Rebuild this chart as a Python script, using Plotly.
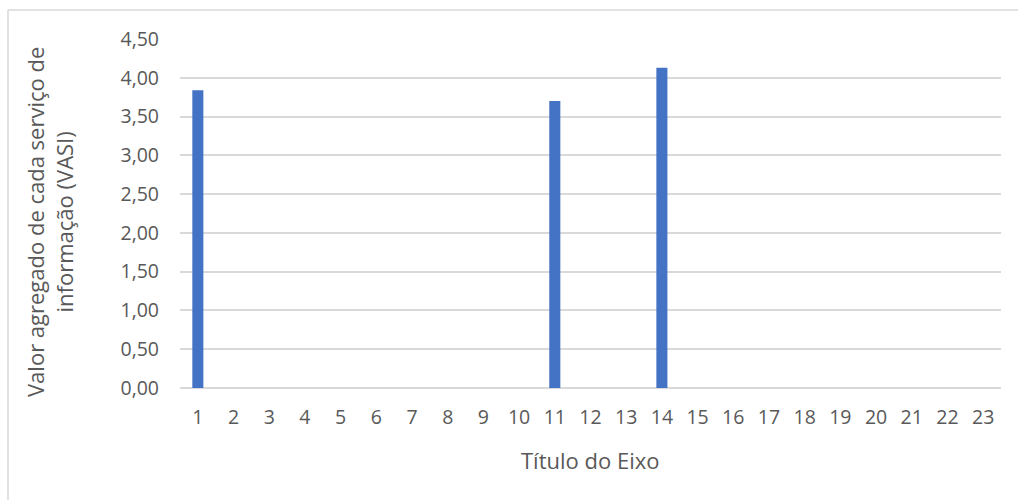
import plotly.graph_objects as go

categories = [str(i) for i in range(1, 24)]
vasi = [3.84, 0, 0, 0, 0, 0, 0, 0, 0, 0, 3.70, 0, 0, 4.13,
        0, 0, 0, 0, 0, 0, 0, 0, 0]
y_ticks = [0, 0.5, 1, 1.5, 2, 2.5, 3, 3.5, 4, 4.5]
y_tick_text = ["0,00", "0,50", "1,00", "1,50", "2,00", "2,50", "3,00", "3,50", "4,00", "4,50"]

W, H = 1018, 500
L, R, T, B = 180, 17, 39, 112
pw, ph = W - L - R, H - T - B

FONT = "Open Sans"
TXT = "#595959"
GRID = "#d9d9d9"

fig = go.Figure(go.Bar(x=categories, y=vasi, marker=dict(color="#4472c4", line=dict(width=0))))


def px_x(x):
    return (x - L) / pw


def px_y(y):
    return 1 - (y - T) / ph


fig.update_layout(
    width=W, height=H,
    margin=dict(l=L, r=R, t=T, b=B),
    paper_bgcolor="white", plot_bgcolor="white",
    bargap=0.69,
    showlegend=False,
    font=dict(family=FONT, color=TXT),
    xaxis=dict(
        type="category",
        showgrid=False, showline=False, zeroline=False,
        ticks="", tickfont=dict(size=19.5, color=TXT, family=FONT),
        ticklabelstandoff=15,
    ),
    yaxis=dict(
        range=[0, 4.5],
        tickvals=y_ticks, ticktext=y_tick_text,
        showgrid=True, gridcolor=GRID, gridwidth=1.5,
        zeroline=True, zerolinecolor=GRID, zerolinewidth=1.5,
        showline=False, ticks="",
        tickfont=dict(size=19.5, color=TXT, family=FONT),
        ticklabelstandoff=20,
    ),
    shapes=[
        dict(type="line", xref="paper", yref="paper",
             x0=px_x(8), x1=px_x(1030), y0=px_y(10), y1=px_y(10),
             line=dict(color=GRID, width=1.5)),
        dict(type="line", xref="paper", yref="paper",
             x0=px_x(8), x1=px_x(8), y0=px_y(10), y1=px_y(520),
             line=dict(color=GRID, width=1.5)),
    ],
    annotations=[
        dict(text="Valor agregado de cada serviço de<br>informação (VASI)",
             xref="paper", yref="paper", x=px_x(50), y=px_y(222),
             textangle=-90, showarrow=False, xanchor="center", yanchor="middle",
             font=dict(size=22, color=TXT, family=FONT)),
        dict(text="Título do Eixo",
             xref="paper", yref="paper", x=px_x(590), y=px_y(460),
             showarrow=False, xanchor="center", yanchor="middle",
             font=dict(size=22, color=TXT, family=FONT)),
    ],
)

fig.write_html("out.html")
